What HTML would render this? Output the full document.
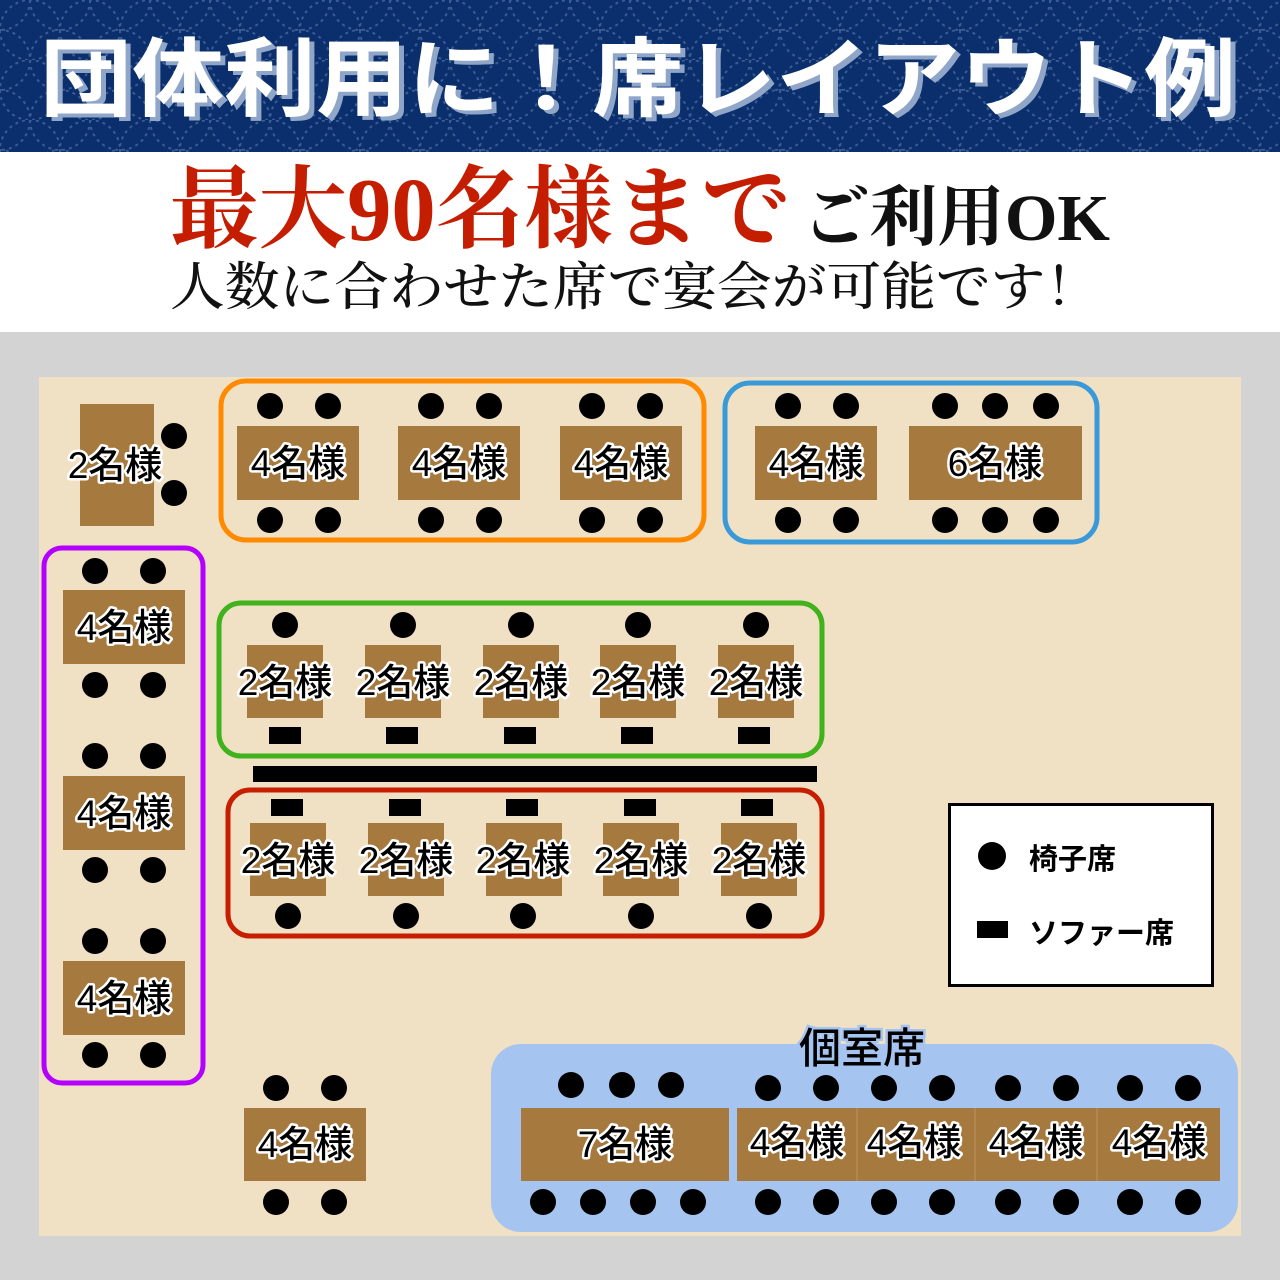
<!DOCTYPE html>
<html><head><meta charset="utf-8"><style>
html,body{margin:0;padding:0;width:1280px;height:1280px;overflow:hidden;background:#d3d3d3}
svg{display:block}
.t{font-family:"Liberation Sans","Noto Sans CJK JP",sans-serif;font-size:37px;font-weight:500;fill:#000;stroke:#fff;stroke-width:5px;paint-order:stroke;stroke-linejoin:round;text-anchor:middle}
.tb{fill:#a67a3f}
</style></head><body>
<svg width="1280" height="1280" viewBox="0 0 1280 1280" xmlns="http://www.w3.org/2000/svg">
<defs>
<pattern id="p" width="60" height="60" patternUnits="userSpaceOnUse">
<circle cx="30" cy="30" r="30" fill="none" stroke="#4d6fa3" stroke-width="2" stroke-dasharray="3 4"/>
<circle cx="0" cy="0" r="30" fill="none" stroke="#4d6fa3" stroke-width="2" stroke-dasharray="3 4"/>
<circle cx="60" cy="60" r="30" fill="none" stroke="#4d6fa3" stroke-width="2" stroke-dasharray="3 4"/>
<circle cx="60" cy="0" r="30" fill="none" stroke="#4d6fa3" stroke-width="2" stroke-dasharray="3 4"/>
<circle cx="0" cy="60" r="30" fill="none" stroke="#4d6fa3" stroke-width="2" stroke-dasharray="3 4"/>
</pattern>
</defs>
<rect x="0" y="0" width="1280" height="152" fill="#0b2f6d"/>
<rect x="0" y="0" width="1280" height="152" fill="url(#p)" opacity="0.7"/>
<g font-family="'Liberation Sans','Noto Sans CJK JP',sans-serif" font-weight="700" font-size="86">
<text x="45" y="113" textLength="1196" lengthAdjust="spacingAndGlyphs" fill="#8fa6c8">団体利用に！席レイアウト例</text>
<text x="40" y="109" textLength="1196" lengthAdjust="spacingAndGlyphs" fill="#fff">団体利用に！席レイアウト例</text>
</g>
<rect x="0" y="152" width="1280" height="180" fill="#fff"/>
<text x="170" y="240" font-family="'Liberation Serif','Noto Serif CJK SC',serif" font-weight="700" font-size="90" fill="#c51d00" textLength="620" lengthAdjust="spacingAndGlyphs">最大90名様まで</text>
<text x="802" y="240" font-family="'Liberation Serif','Noto Serif CJK SC',serif" font-weight="700" font-size="66" fill="#111" textLength="308" lengthAdjust="spacingAndGlyphs">ご利用OK</text>
<text x="170" y="305" font-family="'Noto Serif CJK SC',serif" font-weight="500" font-size="52" fill="#111" textLength="930" lengthAdjust="spacingAndGlyphs">人数に合わせた席で宴会が可能です！</text>

<rect x="39" y="377" width="1202" height="859" fill="#f0e0c4"/>

<rect class="tb" x="80" y="404" width="74" height="122"/>
<g fill="#000"><circle cx="174" cy="436" r="13"/><circle cx="174" cy="493" r="13"/></g>
<text class="t" x="115" y="478">2名様</text>

<rect x="221" y="381" width="483" height="159" rx="25" fill="none" stroke="#ff8a00" stroke-width="5"/>
<g class="tb"><rect x="237" y="426" width="122" height="74"/><rect x="398" y="426" width="122" height="74"/><rect x="560" y="426" width="122" height="74"/></g>
<g fill="#000">
<circle cx="270" cy="406" r="13"/><circle cx="328" cy="406" r="13"/><circle cx="431" cy="406" r="13"/><circle cx="489" cy="406" r="13"/><circle cx="592" cy="406" r="13"/><circle cx="650" cy="406" r="13"/>
<circle cx="270" cy="520" r="13"/><circle cx="328" cy="520" r="13"/><circle cx="431" cy="520" r="13"/><circle cx="489" cy="520" r="13"/><circle cx="592" cy="520" r="13"/><circle cx="650" cy="520" r="13"/>
</g>
<text class="t" x="298" y="476">4名様</text><text class="t" x="459" y="476">4名様</text><text class="t" x="621" y="476">4名様</text>

<rect x="725" y="383" width="372" height="159" rx="25" fill="none" stroke="#3a9ad9" stroke-width="5"/>
<g class="tb"><rect x="755" y="426" width="122" height="74"/><rect x="909" y="426" width="173" height="74"/></g>
<g fill="#000">
<circle cx="788" cy="406" r="13"/><circle cx="846" cy="406" r="13"/><circle cx="945" cy="406" r="13"/><circle cx="995" cy="406" r="13"/><circle cx="1046" cy="406" r="13"/>
<circle cx="788" cy="520" r="13"/><circle cx="846" cy="520" r="13"/><circle cx="945" cy="520" r="13"/><circle cx="995" cy="520" r="13"/><circle cx="1046" cy="520" r="13"/>
</g>
<text class="t" x="816" y="476">4名様</text><text class="t" x="995" y="476">6名様</text>

<rect x="44" y="548" width="159" height="535" rx="18" fill="none" stroke="#b400ff" stroke-width="5"/>
<g class="tb"><rect x="63" y="590" width="122" height="74"/><rect x="63" y="776" width="122" height="74"/><rect x="63" y="961" width="122" height="74"/></g>
<g fill="#000">
<circle cx="95" cy="571" r="13"/><circle cx="153" cy="571" r="13"/><circle cx="95" cy="685" r="13"/><circle cx="153" cy="685" r="13"/>
<circle cx="95" cy="756" r="13"/><circle cx="153" cy="756" r="13"/><circle cx="95" cy="870" r="13"/><circle cx="153" cy="870" r="13"/>
<circle cx="95" cy="941" r="13"/><circle cx="153" cy="941" r="13"/><circle cx="95" cy="1055" r="13"/><circle cx="153" cy="1055" r="13"/>
</g>
<text class="t" x="124" y="640">4名様</text><text class="t" x="124" y="826">4名様</text><text class="t" x="124" y="1011">4名様</text>

<rect x="219" y="603" width="603" height="153" rx="22" fill="none" stroke="#3fb21c" stroke-width="5"/>
<g class="tb"><rect x="247" y="645" width="76" height="73"/><rect x="365" y="645" width="76" height="73"/><rect x="483" y="645" width="76" height="73"/><rect x="600" y="645" width="76" height="73"/><rect x="718" y="645" width="76" height="73"/></g>
<g fill="#000">
<circle cx="285" cy="625" r="13"/><circle cx="403" cy="625" r="13"/><circle cx="521" cy="625" r="13"/><circle cx="638" cy="625" r="13"/><circle cx="756" cy="625" r="13"/>
<rect x="269" y="727" width="32" height="17"/><rect x="386" y="727" width="32" height="17"/><rect x="504" y="727" width="32" height="17"/><rect x="621" y="727" width="32" height="17"/><rect x="738" y="727" width="32" height="17"/>
<rect x="253" y="766" width="564" height="16"/>
</g>
<text class="t" x="285" y="695">2名様</text><text class="t" x="403" y="695">2名様</text><text class="t" x="521" y="695">2名様</text><text class="t" x="638" y="695">2名様</text><text class="t" x="756" y="695">2名様</text>

<rect x="228" y="790" width="594" height="146" rx="22" fill="none" stroke="#c81e00" stroke-width="5"/>
<g class="tb"><rect x="250" y="823" width="76" height="73"/><rect x="368" y="823" width="76" height="73"/><rect x="486" y="823" width="76" height="73"/><rect x="603" y="823" width="76" height="73"/><rect x="721" y="823" width="76" height="73"/></g>
<g fill="#000">
<rect x="271" y="799" width="32" height="17"/><rect x="389" y="799" width="32" height="17"/><rect x="506" y="799" width="32" height="17"/><rect x="624" y="799" width="32" height="17"/><rect x="741" y="799" width="32" height="17"/>
<circle cx="288" cy="916" r="13"/><circle cx="406" cy="916" r="13"/><circle cx="523" cy="916" r="13"/><circle cx="641" cy="916" r="13"/><circle cx="759" cy="916" r="13"/>
</g>
<text class="t" x="288" y="873">2名様</text><text class="t" x="406" y="873">2名様</text><text class="t" x="523" y="873">2名様</text><text class="t" x="641" y="873">2名様</text><text class="t" x="759" y="873">2名様</text>

<rect x="949.5" y="804.5" width="263" height="181" fill="#fff" stroke="#000" stroke-width="3"/>
<circle cx="992" cy="856" r="14" fill="#000"/>
<rect x="977" y="921" width="31" height="17" fill="#000"/>
<g font-family="'Liberation Sans','Noto Sans CJK JP',sans-serif" font-weight="700" font-size="29" fill="#000">
<text x="1029" y="869">椅子席</text><text x="1029" y="943">ソファー席</text>
</g>

<rect class="tb" x="244" y="1108" width="122" height="73"/>
<g fill="#000"><circle cx="276" cy="1088" r="13"/><circle cx="334" cy="1088" r="13"/><circle cx="276" cy="1202" r="13"/><circle cx="334" cy="1202" r="13"/></g>
<text class="t" x="305" y="1157">4名様</text>

<rect x="491" y="1044" width="747" height="188" rx="30" fill="#a5c4ef"/>
<text x="862" y="1063" text-anchor="middle" font-family="'Liberation Sans','Noto Sans CJK JP',sans-serif" font-weight="500" font-size="42" fill="#000" stroke="#a5c4ef" stroke-width="5" paint-order="stroke">個室席</text>
<g class="tb"><rect x="521" y="1108" width="208" height="73"/><rect x="737" y="1108" width="483" height="73"/></g>
<g stroke="#b99062" stroke-width="1"><line x1="857" y1="1108" x2="857" y2="1181"/><line x1="975" y1="1108" x2="975" y2="1181"/><line x1="1097" y1="1108" x2="1097" y2="1181"/></g>
<g fill="#000">
<circle cx="571" cy="1085" r="13"/><circle cx="622" cy="1085" r="13"/><circle cx="671" cy="1085" r="13"/>
<circle cx="768" cy="1088" r="13"/><circle cx="826" cy="1088" r="13"/><circle cx="884" cy="1088" r="13"/><circle cx="942" cy="1088" r="13"/><circle cx="1008" cy="1088" r="13"/><circle cx="1066" cy="1088" r="13"/><circle cx="1130" cy="1088" r="13"/><circle cx="1188" cy="1088" r="13"/>
<circle cx="543" cy="1202" r="13"/><circle cx="593" cy="1202" r="13"/><circle cx="643" cy="1202" r="13"/><circle cx="693" cy="1202" r="13"/>
<circle cx="768" cy="1202" r="13"/><circle cx="826" cy="1202" r="13"/><circle cx="884" cy="1202" r="13"/><circle cx="942" cy="1202" r="13"/><circle cx="1008" cy="1202" r="13"/><circle cx="1066" cy="1202" r="13"/><circle cx="1130" cy="1202" r="13"/><circle cx="1188" cy="1202" r="13"/>
</g>
<text class="t" x="625" y="1157">7名様</text><text class="t" x="797" y="1155">4名様</text><text class="t" x="914" y="1155">4名様</text><text class="t" x="1036" y="1155">4名様</text><text class="t" x="1159" y="1155">4名様</text>
</svg>
</body></html>
